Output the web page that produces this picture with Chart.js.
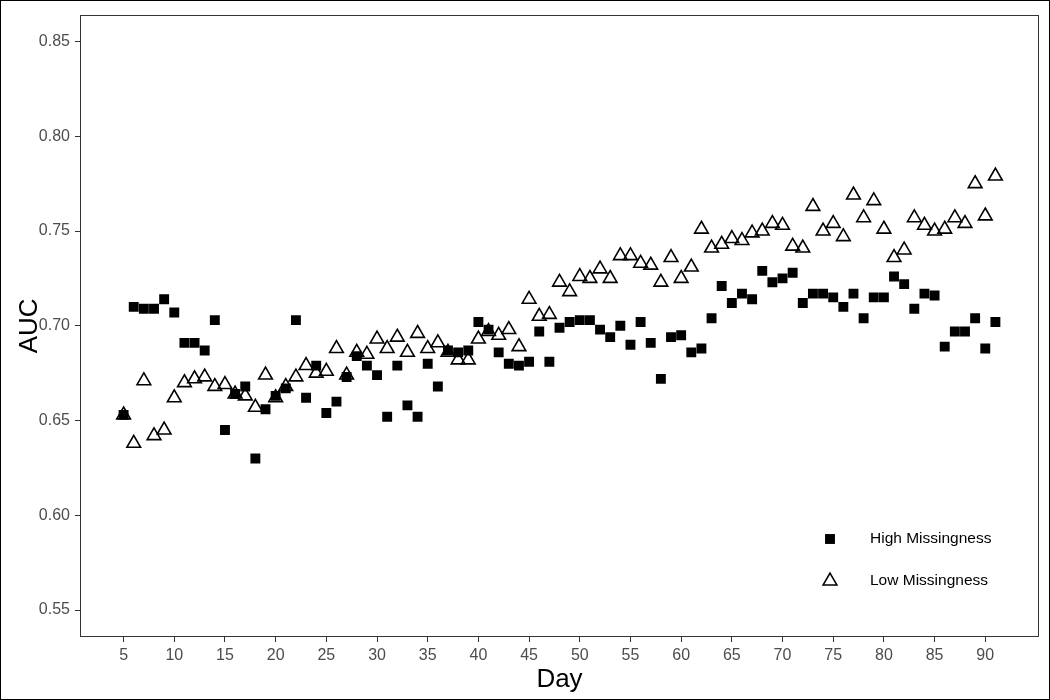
<!DOCTYPE html>
<html>
<head>
<meta charset="utf-8">
<title>AUC by day</title>
<script src="https://cdn.jsdelivr.net/npm/chart.js@4.4.1/dist/chart.umd.min.js"></script>
<style>
  html, body { margin: 0; padding: 0; background: #fff; }
  #auc-chart { display: block; }
</style>
</head>
<body>
<canvas id="auc-chart" width="1050" height="700"></canvas>
<script>
// days 5..91
var days = [5, 6, 7, 8, 9, 10, 11, 12, 13, 14, 15, 16, 17, 18, 19, 20, 21, 22, 23, 24,
  25, 26, 27, 28, 29, 30, 31, 32, 33, 34, 35, 36, 37, 38, 39, 40, 41, 42, 43, 44,
  45, 46, 47, 48, 49, 50, 51, 52, 53, 54, 55, 56, 57, 58, 59, 60, 61, 62, 63, 64,
  65, 66, 67, 68, 69, 70, 71, 72, 73, 74, 75, 76, 77, 78, 79, 80, 81, 82, 83, 84,
  85, 86, 87, 88, 89, 90, 91];

var highMissingness = [0.653, 0.710, 0.709, 0.709, 0.714, 0.707, 0.691, 0.691, 0.687, 0.703,
  0.645, 0.664, 0.668, 0.630, 0.656, 0.663, 0.667, 0.703, 0.662, 0.679,
  0.654, 0.660, 0.673, 0.684, 0.679, 0.674, 0.652, 0.679, 0.658, 0.652,
  0.680, 0.668, 0.687, 0.686, 0.687, 0.702, 0.698, 0.686, 0.680, 0.679,
  0.681, 0.697, 0.681, 0.699, 0.702, 0.703, 0.703, 0.698, 0.694, 0.700,
  0.690, 0.702, 0.691, 0.672, 0.694, 0.695, 0.686, 0.688, 0.704, 0.721,
  0.712, 0.717, 0.714, 0.729, 0.723, 0.725, 0.728, 0.712, 0.717, 0.717,
  0.715, 0.710, 0.717, 0.704, 0.715, 0.715, 0.726, 0.722, 0.709, 0.717,
  0.716, 0.689, 0.697, 0.697, 0.704, 0.688, 0.702];

var lowMissingness = [0.653, 0.638, 0.671, 0.642, 0.645, 0.662, 0.670, 0.672, 0.673, 0.668,
  0.669, 0.664, 0.663, 0.657, 0.674, 0.662, 0.668, 0.673, 0.679, 0.675,
  0.676, 0.688, 0.674, 0.686, 0.685, 0.693, 0.688, 0.694, 0.686, 0.696,
  0.688, 0.691, 0.686, 0.682, 0.682, 0.693, 0.697, 0.695, 0.698, 0.689,
  0.714, 0.705, 0.706, 0.723, 0.718, 0.726, 0.725, 0.730, 0.725, 0.737,
  0.737, 0.733, 0.732, 0.723, 0.736, 0.725, 0.731, 0.751, 0.741, 0.743,
  0.746, 0.745, 0.749, 0.750, 0.754, 0.753, 0.742, 0.741, 0.763, 0.750,
  0.754, 0.747, 0.769, 0.757, 0.766, 0.751, 0.736, 0.740, 0.757, 0.753,
  0.750, 0.751, 0.757, 0.754, 0.775, 0.758, 0.779];

var seriesLabels = ['High Missingness', 'Low Missingness'];
var xTicks = [5, 10, 15, 20, 25, 30, 35, 40, 45, 50, 55, 60, 65, 70, 75, 80, 85, 90];
var yTicks = [0.55, 0.60, 0.65, 0.70, 0.75, 0.80, 0.85];

var FONT = "'Liberation Sans', Arial, Helvetica, sans-serif";
Chart.defaults.font.family = FONT;

function toPoints(ys) {
  return days.map(function(d, i) { return { x: d, y: ys[i] }; });
}

// panel border, outer frame and in-panel legend
var framePlugin = {
  id: 'frame',
  beforeDraw: function(chart) {
    var ctx = chart.ctx;
    ctx.save();
    ctx.fillStyle = '#fff';
    ctx.fillRect(0, 0, chart.width, chart.height);
    ctx.restore();
  },
  afterDraw: function(chart) {
    var ctx = chart.ctx, a = chart.chartArea;
    ctx.save();
    ctx.strokeStyle = '#333';
    ctx.lineWidth = 1;
    ctx.strokeRect(Math.round(a.left) + 0.5, Math.round(a.top) + 0.5,
      Math.round(a.right - a.left) - 1, Math.round(a.bottom - a.top) - 1);
    ctx.strokeStyle = '#000';
    ctx.strokeRect(0.5, 0.5, chart.width - 1, chart.height - 1);

    // legend
    var lx = a.right - 209, tx = a.right - 169;
    var rows = [a.bottom - 98, a.bottom - 56];
    chart.data.datasets.forEach(function(ds, i) {
      ctx.fillStyle = ds.backgroundColor;
      ctx.strokeStyle = ds.borderColor;
      ctx.lineWidth = ds.borderWidth;
      Chart.helpers.drawPoint(ctx, {
        pointStyle: ds.pointStyle, radius: ds.pointRadius,
        rotation: 0, borderWidth: ds.borderWidth
      }, lx, rows[i]);
      ctx.fillStyle = '#000';
      ctx.font = '15.5px ' + FONT;
      ctx.textAlign = 'left';
      ctx.textBaseline = 'middle';
      ctx.fillText(ds.label, tx, rows[i]);
    });
    ctx.restore();
  }
};

new Chart(document.getElementById('auc-chart'), {
  type: 'scatter',
  data: {
    datasets: [{
      label: seriesLabels[0],
      data: toPoints(highMissingness),
      pointStyle: 'rect',
      pointRadius: 7,
      pointHoverRadius: 7,
      backgroundColor: '#000',
      borderColor: '#000',
      borderWidth: 0,
      order: 1
    }, {
      label: seriesLabels[1],
      data: toPoints(lowMissingness),
      pointStyle: 'triangle',
      pointRadius: 7.9,
      pointHoverRadius: 7.9,
      backgroundColor: 'rgba(0,0,0,0)',
      borderColor: '#000',
      borderWidth: 1.6,
      order: 0
    }]
  },
  options: {
    responsive: false,
    animation: false,
    layout: { padding: { left: 0, top: 11, right: 11, bottom: 0 } },
    plugins: {
      legend: { display: false },
      tooltip: { enabled: false }
    },
    scales: {
      x: {
        type: 'linear',
        min: 0.7,
        max: 95.3,
        afterBuildTicks: function(s) { s.ticks = xTicks.map(function(v) { return { value: v }; }); },
        afterFit: function(s) { s.height = 63; },
        grid: { drawOnChartArea: false, drawTicks: true, tickLength: 5, color: '#333', lineWidth: 1 },
        border: { display: false },
        ticks: {
          autoSkip: false, maxRotation: 0, padding: 4,
          color: '#4d4d4d', font: { size: 16 },
          callback: function(v) { return String(v); }
        },
        title: { display: true, text: 'Day', color: '#000', font: { size: 26 }, padding: { top: 0, bottom: 5 } }
      },
      y: {
        type: 'linear',
        min: 0.5358,
        max: 0.8642,
        afterBuildTicks: function(s) { s.ticks = yTicks.map(function(v) { return { value: v }; }); },
        afterFit: function(s) { s.width = 80; },
        grid: { drawOnChartArea: false, drawTicks: true, tickLength: 5, color: '#333', lineWidth: 1 },
        border: { display: false },
        ticks: {
          autoSkip: false, padding: 5,
          color: '#4d4d4d', font: { size: 16 },
          callback: function(v) { return v.toFixed(2); }
        },
        title: { display: true, text: 'AUC', color: '#000', font: { size: 26 }, padding: { top: 14, bottom: 0 } }
      }
    }
  },
  plugins: [framePlugin]
});
</script>
</body>
</html>
